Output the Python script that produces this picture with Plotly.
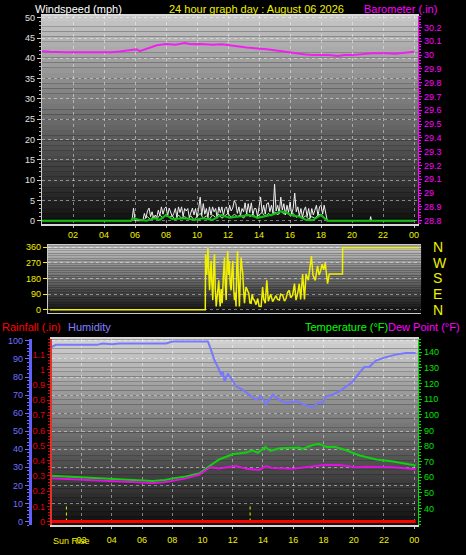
import plotly.graph_objects as go

W, H = 466, 555

# ---------------- DATA ----------------
hour_ticks = [2, 4, 6, 8, 10, 12, 14, 16, 18, 20, 22, 24]
hour_labels = ["02", "04", "06", "08", "10", "12", "14", "16", "18", "20", "22", "00"]

# Barometer (inHg)
baro_hours = [0, 0.5, 1.5, 2.5, 3.7, 4.5, 5.0, 5.5, 6.1, 6.3, 6.8, 7.4, 8.0, 8.6, 9.2, 9.6,
              10.2, 11.0, 11.6, 12.4, 13.2, 14.5, 15.4, 16.2, 17.0, 17.5, 18.5, 19.1, 19.5,
              20.0, 20.7, 21.3, 22.2, 22.8, 23.4, 24.0]
baro = [30.029, 30.024, 30.021, 30.021, 30.019, 30.021, 30.026, 30.033, 30.043, 30.029,
        30.050, 30.071, 30.081, 30.076, 30.088, 30.079, 30.081, 30.076, 30.079, 30.067,
        30.055, 30.043, 30.029, 30.012, 30.005, 30.000, 30.000, 29.993, 30.000, 30.000,
        30.005, 30.014, 30.014, 30.010, 30.017, 30.024]
baro_ticks = [28.8, 28.9, 29.0, 29.1, 29.2, 29.3, 29.4, 29.5, 29.6, 29.7, 29.8, 29.9, 30.0, 30.1, 30.2]

# Wind gust (mph), sampled every 0.1 h from 05.8 to 18.4
gust_start, gust_step = 5.8, 0.1
gust_vals = [0, 3.1,
             0, 0, 0, 0, 0, 0, 1.8, 0.6, 2.4, 3.1,
             1.0, 2.2, 0.4, 1.4, 0.8, 2.6, 1.2, 3.4, 1.6, 3.0,
             3.4, 1.2, 3.1, 2.2, 1.0, 1.8, 3.0, 0.8, 3.4, 2.0,
             3.4, 1.0, 3.0, 2.4, 3.0, 0.8, 2.2, 3.1, 1.4, 3.0,
             0.8, 2.8, 5.8, 1.2, 4.2, 1.6, 3.0, 0.8, 3.4, 1.4,
             3.4, 2.2, 3.0, 0.6, 3.4, 2.0, 3.4, 1.2, 3.0, 3.4,
             1.6, 3.8, 2.4, 3.1, 4.9, 4.2, 1.8, 3.4, 1.2, 3.0,
             2.2, 4.4, 1.6, 4.2, 2.0, 4.4, 1.4, 3.0, 3.0, 1.0,
             3.4, 5.8, 2.0, 3.8, 1.6, 4.2, 4.4, 2.2, 3.8, 1.8,
             9.0, 2.4, 3.8, 1.8, 5.8, 2.6, 4.2, 1.4, 3.8, 2.0,
             4.6, 1.6, 3.0, 6.8, 2.2, 3.4, 1.2, 3.0, 0.8, 2.6,
             3.4, 1.0, 3.0, 0.6, 3.0, 1.4, 2.6, 3.8, 1.2, 3.4,
             3.8, 1.6, 3.8, 1.8, 0]
gust_extra_hours = [21.15, 21.2, 21.25, 24.0]
gust_extra_vals = [0, 1.0, 0, 0]

# Wind speed (pale green), every 0.2 h from 06.6 to 18.4
speed_start, speed_step = 6.6, 0.2
speed_vals = [0.4, 1.0, 0.2, 1.2, 0.4, 1.4, 0.6, 1.6, 0.8, 1.2, 0.2, 1.4, 0.6, 1.0, 0.4,
              1.2, 0.2, 1.0, 1.8, 0.6, 1.2, 0.4, 1.4, 0.8, 1.6, 0.6, 1.2, 1.8, 0.8, 1.6,
              1.0, 1.4, 0.6, 1.8, 1.0, 1.6, 0.8, 1.4, 2.0, 1.0, 1.8, 1.2, 2.2, 1.4, 2.4,
              1.6, 2.0, 1.2, 1.8, 0.8, 1.4, 0.6, 1.2, 0.4, 1.0, 0.6, 1.4, 1.6, 0.8, 0]

# Average wind (green)
avg_hours = [0, 5.75, 5.87, 6.3, 6.73, 7.26, 7.6, 8.0, 8.4, 9.3, 9.8, 10.4, 11.0, 11.55, 12.1,
             12.7, 13.4, 13.9, 14.45, 14.9, 15.4, 15.75, 16.2, 16.6, 17.0, 17.45, 18.0, 18.4, 24]
avg_wind = [0, 0, 0.6, 0.2, 0, 0.6, 0.2, 1.4, 0.4, 0.6, 0.2, 0.6, 0.2, 1.4, 0.7,
            1.0, 1.4, 0.7, 1.2, 1.5, 2.3, 2.0, 1.2, 1.0, 0.2, 0.1, 1.4, 0, 0]

# Wind direction (degrees)
dir_hours = [0, 10.1, 10.12, 10.2, 10.27, 10.33, 10.38, 10.43, 10.48, 10.53, 10.59, 10.65,
             10.70, 10.75, 10.81, 10.9, 10.98, 11.03, 11.07, 11.13, 11.2, 11.28, 11.35, 11.4,
             11.46, 11.51, 11.56, 11.62, 11.67, 11.72, 11.78, 11.84, 11.89, 11.95, 12.0, 12.05,
             12.1, 12.15, 12.2, 12.26, 12.32, 12.38, 12.43, 12.48, 12.54, 12.6, 12.65, 12.7,
             12.75, 12.93, 13.0, 13.08, 13.15, 13.22, 13.29, 13.4, 13.51, 13.6, 13.73, 13.83,
             13.9, 14.0, 14.1, 14.2, 14.27, 14.35, 14.48, 14.6, 14.7, 14.8, 14.92, 15.0, 15.13,
             15.25, 15.35, 15.45, 15.56, 15.65, 15.78, 15.9, 16.0, 16.1, 16.21, 16.3, 16.43,
             16.55, 16.65, 16.8, 17.0, 17.1, 17.25, 17.4, 17.5, 17.6, 17.7, 17.8, 17.9, 18.05,
             18.16, 19.02, 19.03, 24.0]
wind_dir = [0, 0, 319, 200, 356, 250, 112, 200, 281, 150, 56, 250,
            319, 120, 19, 100, 169, 60, 19, 120, 38, 200, 300, 150,
            56, 250, 337, 200, 281, 150, 112, 230, 281, 120, 56, 100,
            19, 250, 337, 150, 19, 200, 300, 250, 206, 100, 38, 90,
            131, 94, 40, 38, 90, 60, 56, 30, 65, 20, 19, 131,
            60, 38, 170, 50, 65, 90, 47, 70, 81, 60, 56, 90, 84,
            50, 65, 100, 112, 70, 84, 151, 56, 90, 150, 60, 206,
            60, 206, 170, 309, 200, 169, 253, 200, 225, 262, 230, 270, 150,
            206, 206, 356, 356]
dir_ticks = [0, 90, 180, 270, 360]
compass = ["N", "E", "S", "W", "N"]

# Humidity (%)
hum_hours = [0.0, 0.3, 1.0, 3.0, 3.4, 4.0, 4.5, 5.4, 7.6, 8.0, 10.25, 10.36, 10.58, 10.8,
             11.02, 11.24, 11.35, 11.46, 11.68, 11.9, 12.23, 12.67, 13.1, 13.55, 13.88, 14.2,
             14.65, 15.09, 15.53, 16.19, 16.74, 17.29, 17.62, 17.95, 18.17, 18.6, 19.05, 19.49,
             19.93, 20.26, 20.7, 21.03, 21.47, 22.13, 22.79, 23.45, 24.1]
humidity = [96.5, 97.8, 97.8, 97.8, 98.6, 98.2, 98.6, 98.6, 98.6, 99.7, 99.7, 99.7, 94.6, 89.1,
            85.5, 81.0, 83.0, 77.4, 81.9, 79.2, 74.7, 72.9, 70.2, 67.4, 69.3, 64.7,
            70.2, 67.4, 65.7, 66.6, 64.7, 62.9, 65.7, 65.7, 69.3, 70.2, 72.0, 74.7,
            77.4, 81.0, 85.5, 85.5, 89.1, 91.0, 92.4, 93.3, 93.3]

# Temperature and dew point (°F)
temp_hours = [0.0, 1.0, 2.0, 3.9, 5.0, 5.85, 6.7, 7.5, 8.05, 8.9, 9.8, 10.35, 11.1, 12.0, 12.9,
              13.3, 13.66, 14.16, 14.5, 15.1, 16.4, 16.6, 17.3, 17.7, 18.2, 18.8, 19.5, 20.4,
              21.5, 22.6, 24.1]
temperature = [61.0, 60.5, 60.0, 59.3, 58.8, 58.0, 57.6, 58.2, 59.3, 60.5, 62.6, 66.4, 71.4,
               74.7, 75.8, 77.3, 75.6, 79.3, 76.8, 78.5, 79.0, 78.1, 80.6, 81.4, 79.3, 79.3,
               77.3, 73.9, 71.4, 70.1, 67.6]
dew_hours = [0.0, 1.0, 2.0, 3.9, 5.0, 5.85, 6.7, 7.5, 8.05, 8.9, 9.8, 10.5, 11.1, 12.2, 12.9,
             13.75, 14.2, 14.6, 15.95, 17.3, 18.2, 19.1, 20.15, 20.8, 22.6, 24.1]
dewpoint = [59.3, 58.8, 58.4, 57.6, 57.2, 56.7, 56.3, 56.8, 57.6, 59.3, 61.8, 66.4, 65.7,
            67.2, 65.5, 64.7, 67.2, 65.9, 65.5, 66.8, 68.0, 67.8, 66.4, 66.8, 66.4, 65.1]

# Rainfall (in)
rain_hours = [0, 24.1]
rainfall = [0, 0]

# Sunrise / sunset markers (hours)
sun_events = [1.0, 13.15]

# ---------------- FIGURE ----------------
FONT = "Liberation Sans, Arial, sans-serif"
YEL = "#f0f000"
MAG = "#ff00ff"
GRN = "#00e000"
BLU = "#7070ff"
RED = "#e00000"
GRID = "rgba(255,255,255,0.45)"

def px_x(p):
    return p / W

def px_y(p):
    return 1 - p / H

fig = go.Figure()

gust_hours = [0.0] + [round(gust_start + gust_step * i, 2) for i in range(len(gust_vals))] + gust_extra_hours
gust = [0] + gust_vals + gust_extra_vals
speed_hours = [round(speed_start + speed_step * i, 2) for i in range(len(speed_vals))]

# Panel 1: wind + barometer
fig.add_trace(go.Scatter(x=gust_hours, y=gust, mode="lines", line=dict(color="#f0f0f0", width=1),
                         xaxis="x", yaxis="y", name="Gust"))
fig.add_trace(go.Scatter(x=speed_hours, y=speed_vals, mode="lines", line=dict(color="#b8f0b0", width=1),
                         xaxis="x", yaxis="y", name="Wind"))
fig.add_trace(go.Scatter(x=avg_hours, y=avg_wind, mode="lines", line=dict(color="#10c010", width=2),
                         xaxis="x", yaxis="y", name="Average"))
fig.add_trace(go.Scatter(x=baro_hours, y=baro, mode="lines", line=dict(color="#f020f0", width=2),
                         xaxis="x", yaxis="y2", name="Barometer"))

# Panel 2: direction (also carried by the compass axis so it is drawn)
fig.add_trace(go.Scatter(x=dir_hours, y=wind_dir, mode="lines", line=dict(color="rgba(0,0,0,0)", width=0),
                         xaxis="x2", yaxis="y4", hoverinfo="skip", name="Compass"))
fig.add_trace(go.Scatter(x=dir_hours, y=wind_dir, mode="lines", line=dict(color="#f0f000", width=1.5),
                         xaxis="x2", yaxis="y3", name="Direction"))

# Panel 3
fig.add_trace(go.Scatter(x=hum_hours, y=humidity, mode="lines", line=dict(color="#7878ff", width=2),
                         xaxis="x3", yaxis="y6", name="Humidity"))
fig.add_trace(go.Scatter(x=temp_hours, y=temperature, mode="lines", line=dict(color="#10d010", width=2),
                         xaxis="x3", yaxis="y7", name="Temperature"))
fig.add_trace(go.Scatter(x=dew_hours, y=dewpoint, mode="lines", line=dict(color="#e010e0", width=2),
                         xaxis="x3", yaxis="y7", name="Dew Point"))
for s in sun_events:
    fig.add_trace(go.Scatter(x=[s, s], y=[0, 0.1], mode="lines",
                             line=dict(color=YEL, width=1, dash="dot"),
                             xaxis="x3", yaxis="y5", name="Sun"))
fig.add_trace(go.Scatter(x=rain_hours, y=rainfall, mode="lines", line=dict(color="#ff0000", width=3),
                         xaxis="x3", yaxis="y5", name="Rainfall"))

# Gradient backgrounds
def gradient(xref, yref, top, bottom, n=40):
    shapes = []
    for i in range(n):
        t = (i + 0.5) / n
        c = [int(round(bottom[k] + (top[k] - bottom[k]) * t)) for k in range(3)]
        shapes.append(dict(type="rect", xref=xref, yref=yref, x0=0, x1=1,
                           y0=i / n, y1=(i + 1) / n, layer="below",
                           line=dict(width=0), fillcolor=f"rgb({c[0]},{c[1]},{c[2]})"))
    return shapes

shapes = []
shapes += gradient("x domain", "y domain", (200, 200, 200), (14, 14, 14))
shapes += gradient("x2 domain", "y3 domain", (200, 200, 200), (14, 14, 14))
shapes += gradient("x3 domain", "y5 domain", (210, 210, 210), (14, 14, 14))

tickfont = dict(family=FONT, size=9)

layout = dict(
    width=W, height=H, margin=dict(l=0, r=0, t=0, b=0),
    paper_bgcolor="black", plot_bgcolor="black", showlegend=False,
    shapes=shapes,
    # Panel 1
    xaxis=dict(domain=[px_x(42), px_x(419)], range=[-0.01, 24.26], anchor="y",
               tickvals=hour_ticks, ticktext=hour_labels, tickfont=dict(tickfont, color=YEL),
               ticks="outside", ticklen=2, tickcolor="#c0c0c0",
               showgrid=True, gridcolor=GRID, griddash="dot",
               showline=True, linecolor="#d8d8d8", linewidth=2, mirror=True, zeroline=False),
    yaxis=dict(domain=[px_y(222), px_y(10)], range=[-0.72, 50.48], anchor="x",
               tickvals=list(range(0, 51, 5)), tickfont=dict(tickfont, color="#e0e0e0"),
               ticks="outside", ticklen=4, tickcolor="#d0d0d0",
               minor=dict(dtick=1, ticks="outside", ticklen=2, tickcolor="#b0b0b0", showgrid=False),
               showgrid=True, gridcolor=GRID, griddash="dot", zeroline=False,
               showline=True, linecolor="#c8c8c8", linewidth=1),
    yaxis2=dict(overlaying="y", side="right", anchor="x", range=[28.779, 30.285],
                tickvals=baro_ticks, ticktext=[f"{v:g}" for v in baro_ticks],
                tickfont=dict(tickfont, color=MAG), ticks="outside", ticklen=3, tickcolor=MAG,
                minor=dict(dtick=0.02, tick0=28.8, ticks="outside", ticklen=2, tickcolor=MAG),
                showgrid=False, zeroline=False, showline=True, linecolor=MAG, linewidth=1),
    # Panel 2
    xaxis2=dict(domain=[px_x(48), px_x(422)], range=[-0.13, 24.13], anchor="y3",
                showticklabels=False, showgrid=False, zeroline=False,
                showline=True, linecolor="#c8c8c8", linewidth=1, mirror=True),
    yaxis3=dict(domain=[px_y(313), px_y(244)], range=[-16.9, 371.25], anchor="x2",
                tickvals=dir_ticks, tickfont=dict(tickfont, color=YEL),
                ticks="outside", ticklen=4, tickcolor=YEL,
                showgrid=True, gridcolor=GRID, griddash="dot", zeroline=False,
                showline=True, linecolor="#c8c8c8", linewidth=1),
    yaxis4=dict(overlaying="y3", side="right", anchor="x2", range=[-16.9, 371.25],
                tickvals=dir_ticks, ticktext=compass,
                tickfont=dict(family=FONT, size=14, color=YEL), ticks="",
                ticklabelstandoff=11, showgrid=False, zeroline=False, showline=False),
    # Panel 3
    xaxis3=dict(domain=[px_x(52), px_x(419)], range=[0.04, 24.26], anchor="y5",
                tickvals=hour_ticks, ticktext=hour_labels, tickfont=dict(tickfont, color=YEL),
                ticks="outside", ticklen=2, tickcolor="#c0c0c0", ticklabelstandoff=3,
                showgrid=True, gridcolor=GRID, griddash="dot", zeroline=False,
                showline=True, linecolor="#d8d8d8", linewidth=2, mirror=True),
    yaxis5=dict(domain=[px_y(530), px_y(340)], range=[-0.026, 1.2], anchor="x3",
                tickvals=[round(0.1 * i, 1) for i in range(12)],
                ticktext=[f"{0.1 * i:.1f}".rstrip("0").rstrip(".") if i else "0" for i in range(12)],
                tickfont=dict(tickfont, color=RED), ticks="outside", ticklen=3, tickcolor=RED,
                minor=dict(dtick=0.02, ticks="outside", ticklen=2, tickcolor=RED),
                showgrid=False, zeroline=False,
                showline=True, linecolor="#e03030", linewidth=2),
    yaxis6=dict(overlaying="y5", anchor="free", position=px_x(30), side="left",
                range=[-2.2, 100.9], tickvals=list(range(0, 101, 10)),
                tickfont=dict(tickfont, color=BLU), ticks="outside", ticklen=4, tickcolor=BLU,
                minor=dict(dtick=2, ticks="outside", ticklen=2, tickcolor=BLU),
                showgrid=True, gridcolor=GRID, griddash="dot", zeroline=False,
                showline=True, linecolor="#6060ff", linewidth=3),
    yaxis7=dict(overlaying="y5", anchor="x3", side="right", range=[29.15, 148.3],
                tickvals=list(range(40, 141, 10)), tickfont=dict(tickfont, color=GRN),
                ticks="outside", ticklen=3, tickcolor=GRN,
                minor=dict(dtick=2, ticks="outside", ticklen=2, tickcolor=GRN),
                showgrid=False, zeroline=False, showline=True, linecolor=GRN, linewidth=1),
)
fig.update_layout(**layout)

def label(text, x, y, color, anchor="left", size=11):
    fig.add_annotation(text=text, x=px_x(x), y=px_y(y), xref="paper", yref="paper",
                       xanchor=anchor, yanchor="middle", showarrow=False,
                       font=dict(family=FONT, size=size, color=color))

label("Windspeed (mph)", 33, 3, "#ffffff")
label("24 hour graph day : August 06 2026", 257, 3, YEL, anchor="center")
label("Barometer (.in)", 440, 3, MAG, anchor="right")
label("Rainfall (.in)", 0, 327, "#ff0000")
label("Humidity", 66, 327, "#8080ff")
label("Temperature (°F)", 391, 327, "#00ff00", anchor="right")
label("Dew Point (°F)", 463, 327, "#ff00ff", anchor="right")
label("Sun Rise", 51, 546, YEL, size=9)

fig.write_html("out.html", config={"displayModeBar": False},
               post_script="document.body.style.margin='0';document.body.style.background='black';")
